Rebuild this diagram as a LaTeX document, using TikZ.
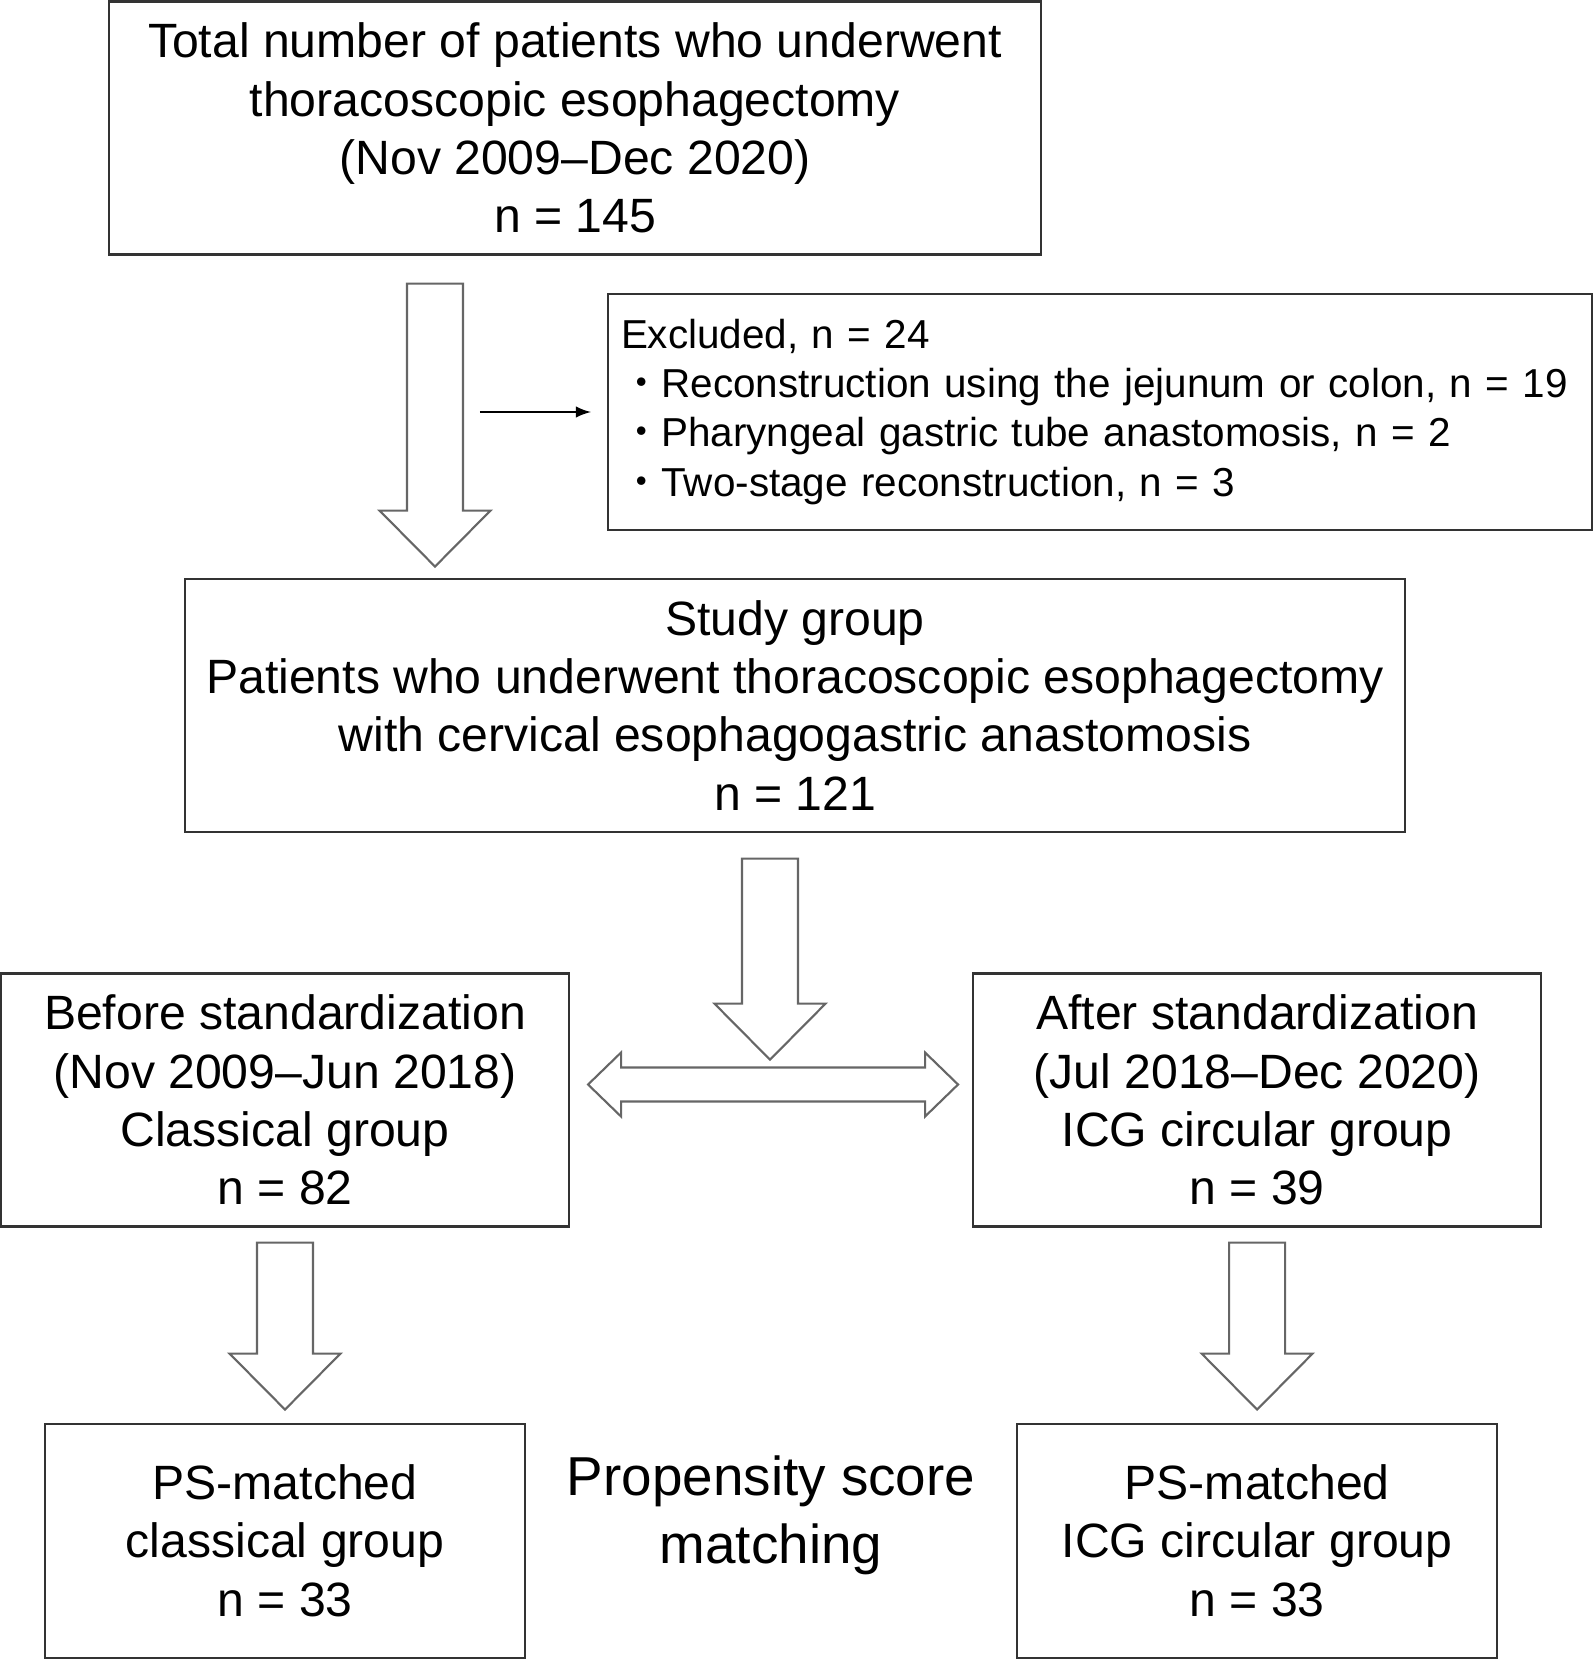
\documentclass[tikz,border=0pt]{standalone}
\usepackage{fontspec}
\setmainfont{Liberation Sans}
\newfontfamily\jpfont{Noto Sans CJK JP}
\usetikzlibrary{arrows,positioning,calc}

% hollow block arrows
\newcommand{\fatdown}[2]{%
  \draw[fatline] let \p1=(#1), \p2=(#2) in
    (\x1-0.28cm,\y1) -- (\x1+0.28cm,\y1) -- (\x1+0.28cm,\y2+0.56cm) -- (\x1+0.555cm,\y2+0.56cm)
    -- (\x1,\y2) -- (\x1-0.555cm,\y2+0.56cm) -- (\x1-0.28cm,\y2+0.56cm) -- cycle;}
\newcommand{\fatboth}[2]{%
  \draw[fatline] let \p1=(#1), \p2=(#2) in
    (\x1,\y1) -- (\x1+0.33cm,\y1+0.32cm) -- (\x1+0.33cm,\y1+0.17cm) -- (\x2-0.33cm,\y1+0.17cm)
    -- (\x2-0.33cm,\y1+0.32cm) -- (\x2,\y1) -- (\x2-0.33cm,\y1-0.32cm) -- (\x2-0.33cm,\y1-0.17cm)
    -- (\x1+0.33cm,\y1-0.17cm) -- (\x1+0.33cm,\y1-0.32cm) -- cycle;}

\begin{document}
\begin{tikzpicture}[>=latex, every node/.style={align=center},
  box/.style={draw=black!80, line width=0.6pt, inner sep=0pt, font=\fontsize{13.7}{16.6}\selectfont},
  fatline/.style={draw=black!60, line width=0.6pt, fill=white}]

\useasboundingbox (0,0) rectangle (15.94,-16.59);

% Main boxes
\node (total) [box, minimum width=9.32cm, minimum height=2.53cm] at (5.75,-1.28)
  {Total number of patients who underwent\\thoracoscopic esophagectomy\\(Nov 2009--Dec 2020)\\n = 145};
\node (excl) [box, align=left, text width=9.72cm, inner xsep=0.06cm, minimum height=2.36cm,
  font=\fontsize{11.5}{13.95}\selectfont] at (11.00,-4.12)
  {\hspace*{0.07cm}Excluded, n = 24\\
   \hspace*{0.07cm}{\jpfont ・}Reconstruction using the jejunum or colon, n = 19\\
   \hspace*{0.07cm}{\jpfont ・}Pharyngeal gastric tube anastomosis, n = 2\\
   \hspace*{0.07cm}{\jpfont ・}Two-stage reconstruction, n = 3};
\node (study) [box, below=3.22cm of total, xshift=2.2cm, minimum width=12.2cm, minimum height=2.53cm]
  {Study group\\Patients who underwent thoracoscopic esophagectomy\\with cervical esophagogastric anastomosis\\n = 121};

% Groups
\node (before) [box, minimum width=5.68cm, minimum height=2.53cm] at (2.85,-11.0)
  {Before standardization\\(Nov 2009--Jun 2018)\\Classical group\\n = 82};
\node (after) [box, right=4.02cm of before, minimum width=5.68cm, minimum height=2.53cm]
  {After standardization\\(Jul 2018--Dec 2020)\\ICG circular group\\n = 39};
\node (psclass) [box, below=1.95cm of before, minimum width=4.8cm, minimum height=2.34cm]
  {PS-matched\\classical group\\n = 33};
\node (psicg) [box, below=1.95cm of after, minimum width=4.8cm, minimum height=2.34cm]
  {PS-matched\\ICG circular group\\n = 33};
\node (psm) [font=\fontsize{15.6}{19.4}\selectfont, yshift=0.25cm] at ($(psclass)!0.5!(psicg)$)
  {Propensity score\\matching};

% Block arrows
\coordinate (a1top) at ([xshift=-1.40cm,yshift=-0.28cm]total.south);
\coordinate (a1tip) at ([yshift=0.11cm]a1top |- study.north);
\fatdown{a1top}{a1tip}
\coordinate (a2top) at ([xshift=-0.25cm,yshift=-0.26cm]study.south);
\coordinate (a2tip) at ([yshift=-2.01cm]a2top);
\coordinate (dl) at ([xshift=0.18cm,yshift=0.155cm]before.east);
\coordinate (dr) at ([xshift=-0.14cm]after.west |- dl);
\fatboth{dl}{dr}
\fatdown{a2top}{a2tip}
\coordinate (a3top) at ([yshift=-0.15cm]before.south);
\coordinate (a3tip) at ([yshift=0.13cm]psclass.north);
\fatdown{a3top}{a3tip}
\coordinate (a4top) at ([yshift=-0.15cm]after.south);
\coordinate (a4tip) at ([yshift=0.13cm]psicg.north);
\fatdown{a4top}{a4tip}

% Exclusion arrow
\draw[->, line width=0.5pt] ([xshift=-1.27cm]excl.west) -- ([xshift=-0.16cm]excl.west);

\end{tikzpicture}
\end{document}
